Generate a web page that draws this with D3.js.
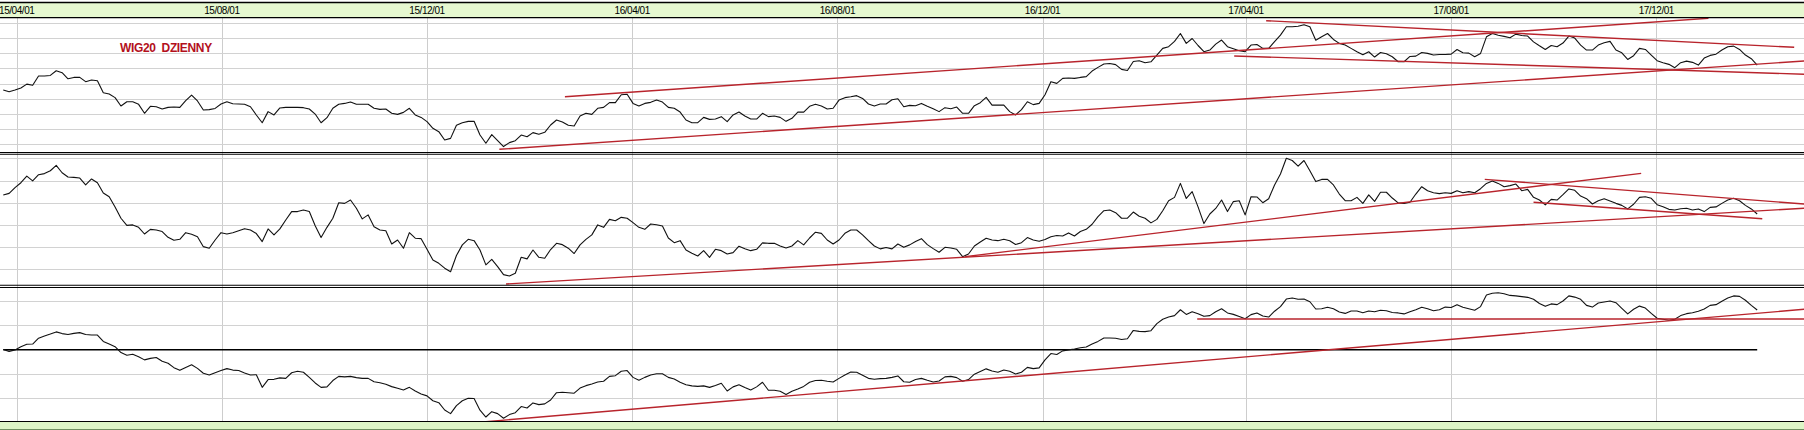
<!DOCTYPE html>
<html><head><meta charset="utf-8">
<script src="https://cdn.jsdelivr.net/npm/d3@7"></script>
<style>body{margin:0;background:#fff}svg{display:block}</style>
</head><body><svg id="c" width="1804" height="430"></svg>
<script>
// ---------- data ----------
const tickLabels = ["15/04/01","15/08/01","15/12/01","16/04/01","16/08/01","16/12/01","17/04/01","17/08/01","17/12/01"];
const startDate = "2015-03-24";   // samples every 3.5 days from this date
const stepHours = 84;
const titleText = "WIG20  DZIENNY";

const wig20 = [
1957,1946,1957,1970,1996,1988,2049,2049,2053,2084,2071,2031,2040,2040,2012,2023,2018,1939,1931,1907,
1852,1880,1880,1863,1804,1850,1847,1832,1843,1845,1843,1887,1924,1885,1826,1828,1836,1865,1880,1867,
1865,1863,1847,1793,1742,1815,1793,1839,1843,1843,1843,1841,1832,1799,1742,1775,1837,1863,1869,1878,
1863,1863,1863,1837,1830,1832,1804,1797,1810,1837,1793,1777,1749,1705,1683,1628,1639,1725,1742,1751,
1752,1661,1607,1664,1624,1585,1611,1624,1661,1650,1677,1666,1679,1727,1760,1747,1725,1720,1786,1804,
1797,1837,1843,1874,1874,1926,1929,1869,1852,1869,1876,1891,1878,1843,1837,1812,1760,1742,1742,1777,
1764,1766,1782,1749,1793,1812,1786,1766,1766,1804,1782,1786,1777,1751,1771,1812,1812,1850,1863,1852,
1832,1837,1891,1907,1913,1920,1902,1865,1852,1865,1865,1893,1900,1847,1856,1854,1869,1850,1834,1815,
1841,1834,1845,1804,1804,1854,1874,1909,1858,1858,1858,1815,1793,1828,1880,1861,1869,1926,2012,2001,
2034,2036,2034,2040,2045,2082,2106,2128,2132,2124,2093,2086,2145,2150,2137,2143,2187,2231,2242,2277,
2329,2264,2296,2250,2209,2220,2259,2286,2242,2229,2215,2209,2253,2257,2231,2231,2275,2318,2373,2373,
2377,2386,2373,2285,2307,2329,2290,2264,2253,2231,2209,2189,2209,2174,2204,2196,2176,2143,2143,2178,
2180,2204,2198,2187,2191,2191,2193,2224,2202,2200,2176,2198,2307,2329,2318,2310,2301,2325,2316,2312,
2274,2248,2224,2250,2242,2266,2312,2299,2253,2220,2220,2253,2268,2277,2220,2202,2158,2183,2231,2224,
2187,2150,2137,2126,2104,2137,2147,2139,2121,2167,2185,2193,2220,2242,2246,2224,2187,2163,2121];

const oscillator = [
43.5,44.2,46.8,49.0,52.0,49.8,52.6,53.1,54.4,56.8,53.5,51.6,51.4,51.1,48.0,50.7,49.0,44.4,42.7,38.1,
33.0,29.8,30.0,28.9,25.9,28.0,27.7,27.0,24.4,23.1,23.5,26.5,25.8,24.7,20.2,19.5,23.2,26.5,25.9,26.5,
27.4,28.3,27.7,26.1,22.5,28.2,25.5,28.2,32.2,36.0,36.0,36.7,36.0,29.6,24.3,28.9,33.0,40.0,39.7,41.2,
37.5,32.7,34.5,29.2,27.7,27.4,21.4,23.2,19.5,26.5,24.0,23.8,19.0,14.2,12.7,10.5,8.9,16.2,21.0,23.5,
22.9,18.7,12.0,14.5,11.2,7.6,7.0,8.2,15.4,14.7,18.7,15.4,15.0,18.9,21.7,21.1,19.5,17.1,21.0,23.5,
25.5,30.0,28.9,32.5,31.9,33.4,33.0,31.0,28.9,28.0,30.4,30.1,29.5,24.1,22.0,22.9,18.7,17.2,16.0,18.4,
15.4,19.0,18.4,16.9,17.5,20.4,19.3,18.4,19.0,21.9,21.7,21.7,20.5,19.6,20.5,22.9,21.0,24.1,26.7,26.2,
23.2,21.4,23.2,26.2,27.7,27.7,25.5,22.9,20.5,19.2,19.8,19.2,21.4,19.9,21.0,22.5,23.8,21.1,19.3,17.7,
19.9,19.6,19.0,15.7,16.9,20.5,22.3,24.0,23.2,22.9,23.5,22.9,21.2,22.0,24.3,23.2,22.6,23.4,24.7,25.2,
25.0,26.4,25.0,27.0,28.0,30.3,33.7,36.4,36.7,35.5,33.0,33.0,35.8,33.9,33.0,30.9,32.5,36.4,40.9,42.4,
48.7,41.9,45.0,38.1,30.6,34.9,37.4,41.2,36.0,40.5,40.9,34.5,42.7,42.6,40.0,41.8,48.0,52.9,60.0,59.0,
56.5,59.0,54.4,49.5,50.5,50.5,48.0,43.9,40.9,40.9,42.4,39.7,43.5,40.6,44.7,44.7,42.1,39.9,39.7,40.2,
43.9,47.2,45.4,44.5,44.1,44.5,44.2,45.4,44.5,45.0,44.5,46.3,48.7,49.8,48.7,47.2,47.7,48.4,45.4,46.0,
42.4,41.2,39.0,41.5,41.2,43.6,46.2,45.6,43.0,41.8,39.4,40.9,41.8,40.8,39.7,38.8,37.2,39.3,42.4,42.7,
42.0,39.1,38.2,37.0,36.7,37.3,37.5,36.7,37.2,36.0,37.9,38.1,39.7,41.2,42.0,40.9,38.8,37.2,34.9];

const deviation = [
0.1,-0.7,-0.1,1.2,2.2,2.3,4.7,5.6,6.4,7.3,6.6,6.2,6.7,7.0,6.2,6.0,6.0,3.4,2.3,1.2,
-1.2,-2.3,-1.9,-2.9,-4.2,-3.6,-3.2,-4.8,-5.6,-7.4,-8.5,-7.3,-6.2,-7.7,-9.7,-10.4,-9.5,-8.6,-7.8,-8.4,
-8.6,-9.6,-10.4,-10.3,-15.5,-12.3,-12.2,-11.6,-11.8,-9.5,-8.9,-9.3,-11.4,-13.7,-15.5,-15.3,-12.7,-11.0,-11.2,-11.0,
-11.5,-11.8,-11.8,-13.2,-13.6,-14.2,-15.2,-15.9,-16.6,-15.5,-17.0,-18.2,-19.0,-21.0,-21.8,-24.8,-26.3,-23.0,-21.0,-20.0,
-20.1,-24.9,-27.7,-25.5,-26.3,-28.2,-26.7,-25.9,-23.4,-24.0,-21.9,-22.6,-22.3,-20.7,-17.7,-17.5,-17.7,-17.9,-15.8,-14.8,
-14.1,-13.3,-13.0,-11.0,-10.7,-8.9,-8.6,-11.4,-12.6,-11.4,-10.4,-9.9,-9.9,-11.4,-12.1,-13.4,-14.4,-14.9,-15.1,-14.9,
-15.5,-14.7,-13.8,-17.0,-15.3,-14.4,-15.6,-16.6,-15.3,-13.4,-16.7,-16.7,-17.1,-18.4,-17.1,-16.2,-15.1,-13.4,-12.7,-12.6,
-13.0,-13.3,-11.8,-10.4,-9.2,-9.3,-10.5,-11.8,-12.2,-11.9,-11.8,-11.4,-10.8,-13.2,-13.4,-12.3,-11.8,-12.6,-13.3,-12.9,
-11.2,-11.0,-11.5,-13.0,-12.3,-10.1,-9.0,-7.9,-8.8,-9.3,-8.4,-8.9,-10.0,-9.3,-7.3,-7.8,-7.5,-4.2,-1.6,-2.0,
-0.5,-0.1,0.3,0.8,1.1,2.3,3.4,4.8,4.8,4.7,4.2,4.5,7.9,7.5,7.4,7.8,10.7,12.5,13.4,14.0,
16.4,14.5,15.6,14.8,13.7,14.0,15.6,16.8,15.1,14.5,13.6,12.7,14.4,15.1,13.8,13.4,15.8,17.7,20.8,21.2,
20.7,20.8,19.7,16.7,16.8,17.4,16.8,15.5,14.9,15.9,15.9,15.2,15.9,15.6,16.2,16.0,15.3,15.1,14.7,15.6,
16.4,17.4,16.8,16.0,16.4,17.5,17.3,18.5,17.4,16.8,16.2,17.7,22.5,23.2,23.4,23.0,22.3,22.1,21.8,21.5,
20.7,19.0,17.8,18.8,18.5,20.0,22.1,21.6,20.7,18.2,17.5,19.2,19.6,20.0,19.3,17.0,14.7,16.6,17.9,17.1,
14.9,12.9,12.5,12.1,12.5,14.0,14.8,15.2,15.8,16.7,18.2,18.5,19.9,21.2,22.1,21.9,20.3,18.2,16.3];

// trend lines: [startDate, startValue, endDate, endValue]
const trendWig = [
  ["2016-02-21", 1913, "2018-01-01", 2429],
  ["2016-01-13", 1567, "2018-02-27", 2148],
  ["2017-04-13", 2413, "2018-02-21", 2238],
  ["2017-03-25", 2181, "2018-02-27", 2061]
];
const trendOsc = [
  ["2016-01-17", 3.4, "2018-02-27", 37.5],
  ["2016-10-16", 15.7, "2017-11-22", 53.2],
  ["2017-08-21", 50.5, "2018-02-27", 39.4],
  ["2017-09-19", 40.2, "2018-02-02", 32.8]
];
const trendDev = [
  ["2016-01-05", -29.6, "2018-02-27", 16.6],
  ["2017-03-03", 12.6, "2018-02-27", 12.6]
];
const levelDev = [0];

const gridWig = [1600,1700,1800,1900,2000,2100,2200,2300,2400];
const gridOsc = [10,20,30,40,50,60];
const gridDev = [-20,-10,0,10,20];

// ---------- drawing ----------
const W = 1804, H = 430;
const svg = d3.select("#c");
const parseTick = d3.utcParse("%y/%m/%d");
const parseISO = d3.utcParse("%Y-%m-%d");
const t0 = parseISO(startDate);
const dates = wig20.map((_, i) => d3.utcHour.offset(t0, stepHours * i));

const x = d3.scaleUtc()
  .domain([parseTick("15/04/01"), parseTick("17/12/01")])
  .range([16.7, 1656.3]);

const panels = [
  {top: 18, bottom: 152, y: d3.scaleLinear().domain([1600, 2400]).range([144.3, 22.7]), data: wig20, grid: gridWig, trends: trendWig},
  {top: 154, bottom: 285.5, y: d3.scaleLinear().domain([10, 60]).range([269.3, 158.3]), data: oscillator, grid: gridOsc, trends: trendOsc},
  {top: 287.5, bottom: 421, y: d3.scaleLinear().domain([-20, 20]).range([398.3, 301]), data: deviation, grid: gridDev, trends: trendDev, levels: levelDev}
];

svg.append("rect").attr("width", W).attr("height", H).attr("fill", "#fff");

const defs = svg.append("defs");
panels.forEach((p, i) => {
  defs.append("clipPath").attr("id", "clip" + i)
    .append("rect").attr("x", 0).attr("y", p.top).attr("width", W).attr("height", p.bottom - p.top);
});

const tickDates = tickLabels.map(parseTick);

// vertical grid
svg.append("g").selectAll("line").data(tickDates).join("line")
  .attr("x1", d => Math.round(x(d)) + 0.5).attr("x2", d => Math.round(x(d)) + 0.5)
  .attr("y1", 18).attr("y2", 421)
  .attr("stroke", "#cdcdcd").attr("stroke-width", 1);

panels.forEach((p, i) => {
  const g = svg.append("g").attr("clip-path", `url(#clip${i})`);
  g.selectAll("line.h").data(p.grid.filter(v => !(p.levels && p.levels.includes(v)))).join("line")
    .attr("class", "h")
    .attr("x1", 0).attr("x2", W)
    .attr("y1", d => Math.round(p.y(d)) + 0.5).attr("y2", d => Math.round(p.y(d)) + 0.5)
    .attr("stroke", "#d2d2d2").attr("stroke-width", 1);

  if (p.levels) {
    g.selectAll("line.lv").data(p.levels).join("line")
      .attr("class", "lv")
      .attr("x1", x(dates[0])).attr("x2", x(dates[dates.length - 1]))
      .attr("y1", d => p.y(d)).attr("y2", d => p.y(d))
      .attr("stroke", "#000").attr("stroke-width", 1.5);
  }

  const line = d3.line().x((d, j) => x(dates[j])).y(d => p.y(d));
  g.append("path").datum(p.data)
    .attr("d", line)
    .attr("fill", "none").attr("stroke", "#111").attr("stroke-width", 1.1)
    .attr("stroke-linejoin", "round");

  g.selectAll("line.tr").data(p.trends).join("line")
    .attr("class", "tr")
    .attr("x1", d => x(parseISO(d[0]))).attr("y1", d => p.y(d[1]))
    .attr("x2", d => x(parseISO(d[2]))).attr("y2", d => p.y(d[3]))
    .attr("stroke", "#b8242c").attr("stroke-width", 1.4);
});

// separators (double lines)
[[152.5, 154.3], [285.2, 287.5]].forEach(pair => {
  pair.forEach(yy => {
    svg.append("line").attr("x1", 0).attr("x2", W).attr("y1", yy).attr("y2", yy)
      .attr("stroke", "#000").attr("stroke-width", 1.1);
  });
});

// header band
svg.append("rect").attr("x", 0).attr("y", 2).attr("width", W).attr("height", 16).attr("fill", "#e6f8d0");
svg.append("line").attr("x1", 0).attr("x2", W).attr("y1", 2.5).attr("y2", 2.5).attr("stroke", "#000").attr("stroke-width", 1.3);
svg.append("line").attr("x1", 0).attr("x2", W).attr("y1", 17.6).attr("y2", 17.6).attr("stroke", "#000").attr("stroke-width", 1.3);

svg.append("g").selectAll("text").data(tickLabels).join("text")
  .attr("x", d => x(parseTick(d)))
  .attr("y", 14)
  .attr("text-anchor", "middle")
  .attr("font-family", "Arial, 'Liberation Sans', sans-serif")
  .attr("font-size", 10)
  .attr("letter-spacing", -0.45)
  .attr("fill", "#000")
  .text(d => d);

// footer band
svg.append("rect").attr("x", 0).attr("y", 421).attr("width", W).attr("height", 9).attr("fill", "#ddf5c6");
svg.append("line").attr("x1", 0).attr("x2", W).attr("y1", 421.5).attr("y2", 421.5).attr("stroke", "#000").attr("stroke-width", 1.2);
svg.append("line").attr("x1", 0).attr("x2", W).attr("y1", 429.5).attr("y2", 429.5).attr("stroke", "#6f8f60").attr("stroke-width", 1.2);

// title
svg.append("text")
  .attr("x", 120).attr("y", 52.3)
  .attr("font-family", "Arial, 'Liberation Sans', sans-serif")
  .attr("font-weight", "bold")
  .attr("font-size", 12)
  .attr("letter-spacing", -0.35)
  .attr("fill", "#b3101c")
  .style("white-space", "pre")
  .text(titleText);
</script>
</body></html>
